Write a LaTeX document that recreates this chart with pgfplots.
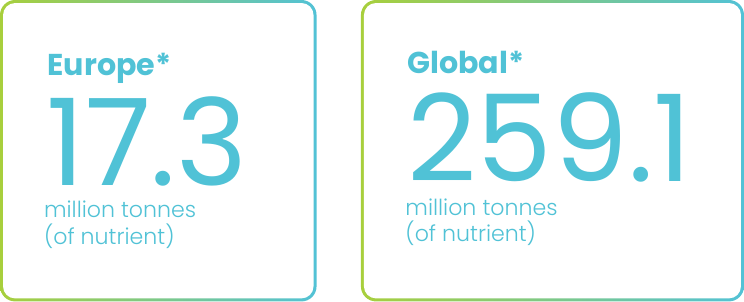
\documentclass[border=0pt]{standalone}
\usepackage{fontspec}
\setmainfont{Poppins}
\newfontfamily\lightfont{Poppins Light}
\usepackage{pgfplots}
\pgfplotsset{compat=1.18}
\definecolor{tcyan}{HTML}{50C2D6}
\definecolor{bgreen}{HTML}{A8CF3C}
\definecolor{bcyan}{HTML}{52C2D6}
\begin{document}
\begin{tikzpicture}
\begin{axis}[width=744bp,height=303bp,scale only axis,
  xmin=0,xmax=744,ymin=0,ymax=303,y dir=reverse,hide axis,clip=false]
% boxes
\shade[left color=bgreen,right color=bcyan,rounded corners=15bp] (axis cs:4,3) rectangle (axis cs:318,302);
\fill[white,rounded corners=12bp] (axis cs:7,6) rectangle (axis cs:315,299);
\shade[left color=bgreen,right color=bcyan,rounded corners=15bp] (axis cs:362,3) rectangle (axis cs:742,302);
\fill[white,rounded corners=12bp] (axis cs:365,6) rectangle (axis cs:739,299);
% headings
\node[anchor=base west,inner sep=0,text=tcyan,font=\fontsize{30}{30}\selectfont\bfseries] at (axis cs:51,77.5) {Europe*};
\node[anchor=base west,inner sep=0,text=tcyan,font=\fontsize{30}{30}\selectfont\bfseries] at (axis cs:408,76) {Global*};
% values
\addplot[only marks,mark=none,point meta=explicit symbolic,nodes near coords,
  nodes near coords style={anchor=base west,inner sep=0,text depth=0pt,text=tcyan,font=\fontsize{120}{120}\selectfont}]
  coordinates {(50,187) [17.3] (408,183) [259.1]};
% units
\node[anchor=base west,inner sep=0,text=tcyan,font=\fontsize{22}{22}\selectfont\lightfont] at (axis cs:47.5,219) {million tonnes};
\node[anchor=base west,inner sep=0,text=tcyan,font=\fontsize{22}{22}\selectfont\lightfont] at (axis cs:47.5,246) {(of nutrient)};
\node[anchor=base west,inner sep=0,text=tcyan,font=\fontsize{22}{22}\selectfont\lightfont] at (axis cs:406,216.7) {million tonnes};
\node[anchor=base west,inner sep=0,text=tcyan,font=\fontsize{22}{22}\selectfont\lightfont] at (axis cs:406,243) {(of nutrient)};
\end{axis}
\end{tikzpicture}
\end{document}
